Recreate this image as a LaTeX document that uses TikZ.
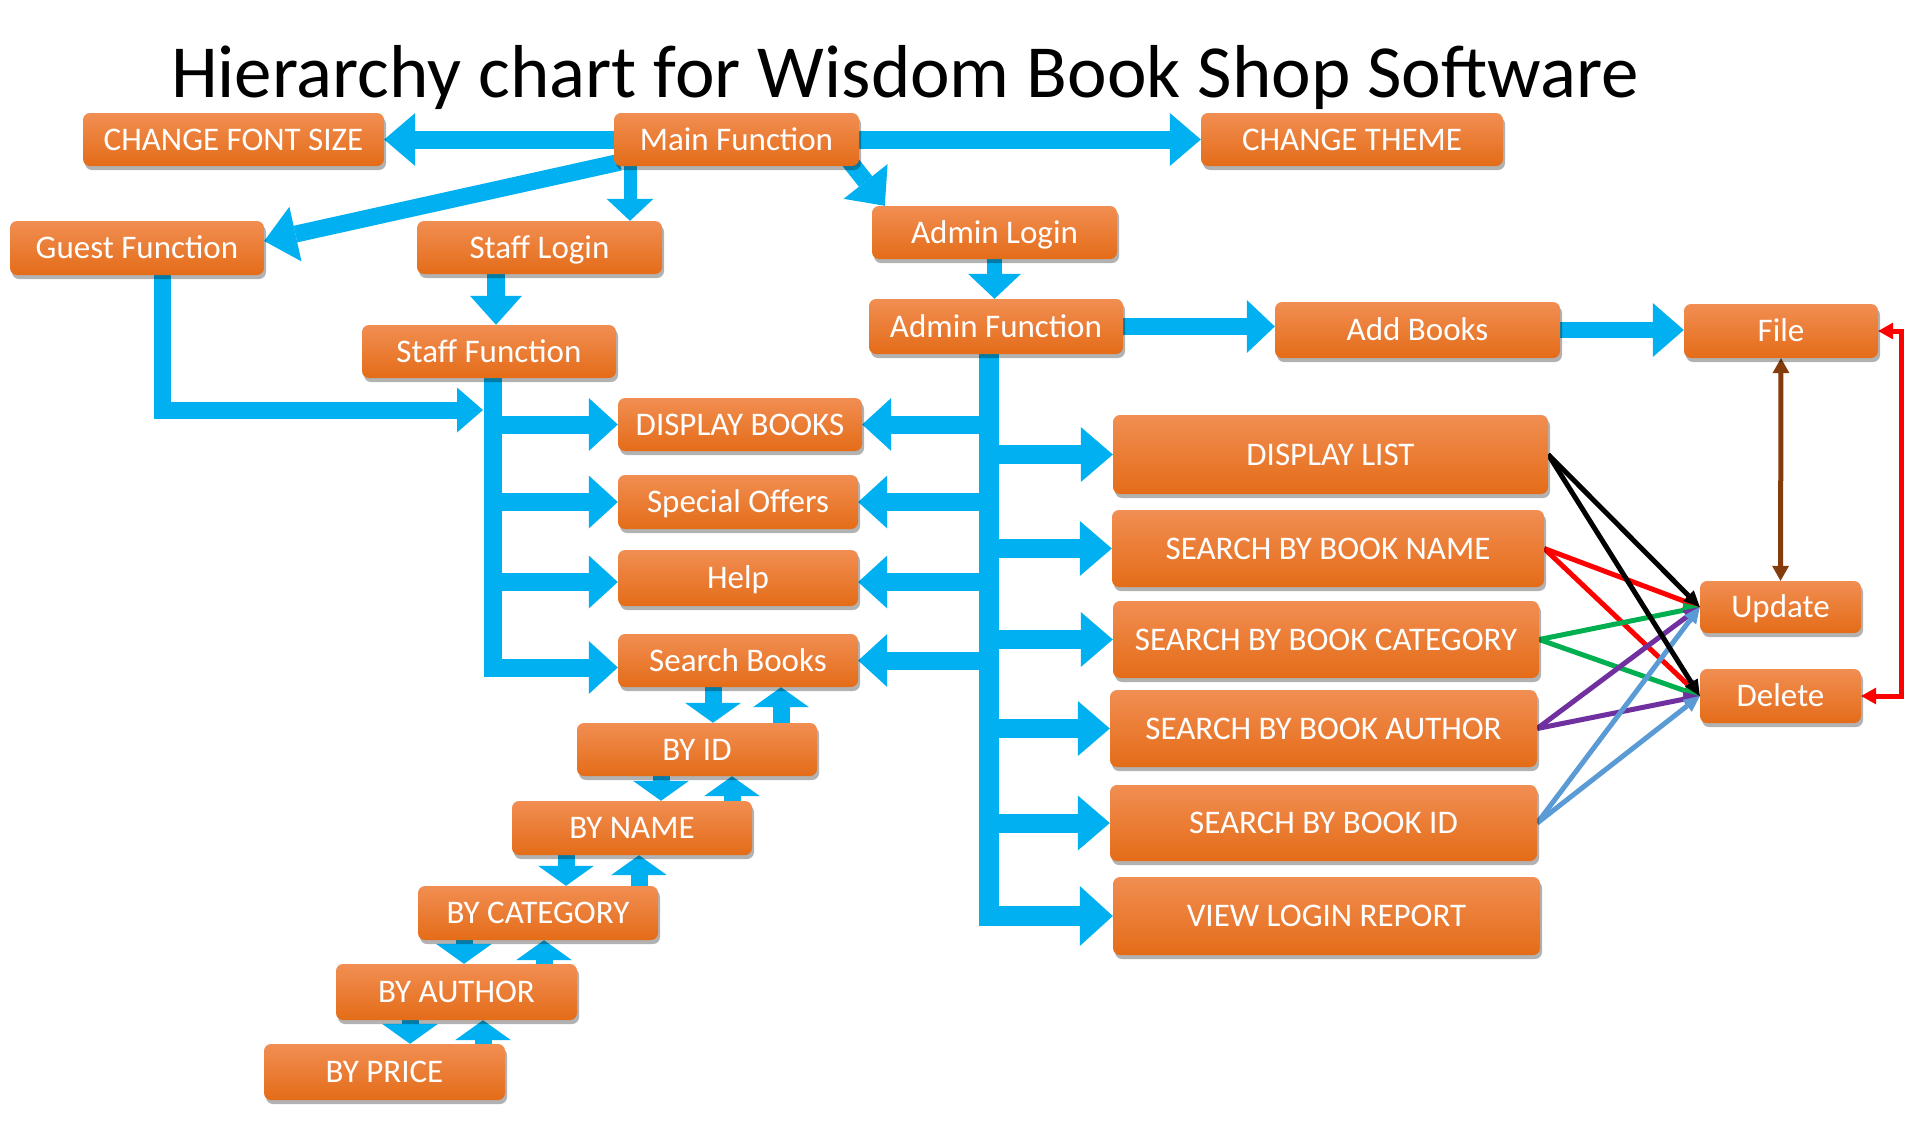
\documentclass[tikz,border=0pt]{standalone}
\usepackage{fontspec}
\setmainfont{Carlito}
\usetikzlibrary{arrows.meta,shadows,backgrounds,calc}
\definecolor{skyb}{RGB}{0,176,240}
\definecolor{orT}{RGB}{241,142,82}
\definecolor{orB}{RGB}{228,108,24}
\definecolor{grn}{RGB}{0,176,80}
\definecolor{prp}{RGB}{112,48,160}
\definecolor{lblu}{RGB}{91,155,213}
\definecolor{brn}{RGB}{132,60,12}
\definecolor{rd}{RGB}{255,0,0}
\tikzset{
  box/.style={rounded corners=7pt, top color=orT, bottom color=orB, draw=none,
    text=white, font=\fontsize{33}{36}\selectfont, inner sep=0pt,
    text height=21pt, text depth=0pt,
    drop shadow={shadow xshift=2pt, shadow yshift=-4pt, opacity=0.3, fill=black}},
  ba/.style n args={3}{draw=skyb, line width=#1, line join=miter,
    -{Triangle[length=#2,width=#3,line width=0pt]}},
  big/.style={ba={18pt}{31pt}{53pt}},
  brn18/.style={ba={18pt}{29pt}{53pt}},
  sd/.style={ba={17pt}{20pt}{56pt}},
  carr/.style={line width=5pt, -{Triangle[length=16pt,width=15pt,line width=0pt]}},
  dtip/.style={line width=5pt, {Triangle[length=15pt,width=17pt,line width=0pt]}-{Triangle[length=15pt,width=17pt,line width=0pt]}},
}
\begin{document}
\begin{tikzpicture}[x=1pt,y=-1pt]
\useasboundingbox (0,0) rectangle (1905,1125);

\node[font=\fontsize{75}{80}\selectfont, anchor=base, inner sep=0pt] (title) at (905,97) {Hierarchy chart for Wisdom Book Shop Software};

% boxes
\node[box, minimum width=301pt, minimum height=53pt] (cfs) at (233.5,139.5) {CHANGE FONT SIZE};
\node[box, minimum width=245pt, minimum height=53pt] (main) at (736.5,139.5) {Main Function};
\node[box, minimum width=302pt, minimum height=53pt] (theme) at (1352,139.5) {CHANGE THEME};
\node[box, minimum width=254pt, minimum height=54pt] (guest) at (137,248) {Guest Function};
\node[box, minimum width=245pt, minimum height=53pt] (slogin) at (539.5,247.5) {Staff Login};
\node[box, minimum width=245pt, minimum height=53pt] (alogin) at (994.5,232.5) {Admin Login};
\node[box, minimum width=254pt, minimum height=53pt] (sfunc) at (489,351.5) {Staff Function};
\node[box, minimum width=254pt, minimum height=55pt] (afunc) at (996,326.5) {Admin Function};
\node[box, minimum width=285pt, minimum height=56pt] (addb) at (1417.5,330) {Add Books};
\node[box, minimum width=194pt, minimum height=54pt] (file) at (1781,331) {File};
\node[box, minimum width=244pt, minimum height=53pt] (dbooks) at (740,424.5) {DISPLAY BOOKS};
\node[box, minimum width=240pt, minimum height=54pt] (offers) at (738,502) {Special Offers};
\node[box, minimum width=240pt, minimum height=56pt] (help) at (738,578) {Help};
\node[box, minimum width=240pt, minimum height=53pt] (sbooks) at (738,660.5) {Search Books};
\node[box, minimum width=240pt, minimum height=53pt] (byid) at (697,749.5) {BY ID};
\node[box, minimum width=240pt, minimum height=54pt] (byname) at (632,828) {BY NAME};
\node[box, minimum width=240pt, minimum height=54pt] (bycat) at (538,913) {BY CATEGORY};
\node[box, minimum width=241pt, minimum height=56pt] (byauth) at (456.5,992) {BY AUTHOR};
\node[box, minimum width=241pt, minimum height=56pt] (byprice) at (384.5,1072) {BY PRICE};
\node[box, minimum width=435pt, minimum height=79pt] (dlist) at (1330.5,454.5) {DISPLAY LIST};
\node[box, minimum width=432pt, minimum height=77pt] (sname) at (1328,548.5) {SEARCH BY BOOK NAME};
\node[box, minimum width=426pt, minimum height=77pt] (scat) at (1326,639.5) {SEARCH BY BOOK CATEGORY};
\node[box, minimum width=427pt, minimum height=77pt] (sauth) at (1323.5,728.5) {SEARCH BY BOOK AUTHOR};
\node[box, minimum width=427pt, minimum height=76pt] (sid) at (1323.5,823) {SEARCH BY BOOK ID};
\node[box, minimum width=427pt, minimum height=78pt] (vlog) at (1326.5,916) {VIEW LOGIN REPORT};
\node[box, minimum width=161pt, minimum height=52pt] (update) at (1780.5,607) {Update};
\node[box, minimum width=161pt, minimum height=54pt] (delete) at (1780.5,696) {Delete};

% helper coordinates
\coordinate (x630) at (630,0);
\coordinate (x496) at (496,0);
\coordinate (gj) at (483,410);
\coordinate (st) at (493,0);
\coordinate (at) at (989,0);
\coordinate (s1) at (713,0);
\coordinate (s2) at (781,0);
\coordinate (s3) at (661,0);
\coordinate (s4) at (732,0);
\coordinate (s5) at (566,0);
\coordinate (s6) at (639,0);
\coordinate (s7) at (464,0);
\coordinate (s8) at (544,0);
\coordinate (s9) at (410,0);
\coordinate (s10) at (483,0);
\coordinate (rc) at (1901,0);

\begin{pgfonlayer}{background}
\fill[white] (0,0) rectangle (1905,1125);
% main function
\draw[big] (main.west) -- (cfs.east);
\draw[big] (main.east) -- (theme.west);
\draw[ba={17pt}{32pt}{56pt}] ($(main.south west)+(6,-4)$) -- ($(guest.east)+(0,-7)$);
\draw[ba={13pt}{22pt}{47pt}] (main.south -| x630) -- (slogin.north -| x630);
\draw[ba={17pt}{31pt}{56pt}] ($(main.south east)+(-12,-8)$) -- ($(alogin.north west)+(13,0)$);
\draw[ba={18pt}{29pt}{52pt}] (slogin.south -| x496) -- (sfunc.north -| x496);
\draw[ba={15pt}{25pt}{53pt}] (alogin.south) -- (alogin.south |- afunc.north);
\draw[ba={17pt}{28pt}{53pt}] (afunc.east) -- (afunc.east -| addb.west);
\draw[ba={16pt}{31pt}{54pt}] (addb.east) -- (addb.east -| file.west);
% guest
\draw[ba={17pt}{26pt}{45pt}] ($(guest.south west)+(153,0)$) |- (gj);
% staff trunk
\draw[brn18] (sfunc.south -| st) |- ($(sbooks.west)+(0,7)$);
\draw[brn18] (st |- dbooks.west) -- (dbooks.west);
\draw[brn18] (st |- offers.west) -- (offers.west);
\draw[brn18] ($(st |- help.west)+(0,4)$) -- ($(help.west)+(0,4)$);
% admin trunk
\draw[ba={20pt}{33pt}{60pt}] (afunc.south -| at) |- (vlog.west);
\draw[ba={19pt}{32pt}{55pt}] (at |- dlist.west) -- (dlist.west);
\draw[ba={19pt}{32pt}{55pt}] (at |- sname.west) -- (sname.west);
\draw[ba={19pt}{32pt}{55pt}] (at |- scat.west) -- (scat.west);
\draw[ba={19pt}{32pt}{55pt}] (at |- sauth.west) -- (sauth.west);
\draw[ba={19pt}{32pt}{55pt}] (at |- sid.west) -- (sid.west);
\draw[brn18] (at |- dbooks.east) -- (dbooks.east);
\draw[brn18] (at |- offers.east) -- (offers.east);
\draw[brn18] ($(at |- help.east)+(0,4)$) -- ($(help.east)+(0,4)$);
\draw[brn18] (at |- sbooks.east) -- (sbooks.east);
% staircase
\draw[sd] (sbooks.south -| s1) -- (byid.north -| s1);
\draw[sd] (byid.north -| s2) -- (sbooks.south -| s2);
\draw[sd] (byid.south -| s3) -- (byname.north -| s3);
\draw[sd] (byname.north -| s4) -- (byid.south -| s4);
\draw[sd] (byname.south -| s5) -- (bycat.north -| s5);
\draw[sd] (bycat.north -| s6) -- (byname.south -| s6);
\draw[sd] (bycat.south -| s7) -- (byauth.north -| s7);
\draw[sd] (byauth.north -| s8) -- (bycat.south -| s8);
\draw[sd] (byauth.south -| s9) -- (byprice.north -| s9);
\draw[sd] (byprice.north -| s10) -- (byauth.south -| s10);
% coloured connectors
\draw[carr, rd] (sname.east) -- (update.west);
\draw[carr, rd] (sname.east) -- (delete.west);
\draw[carr, grn] (scat.east) -- (update.west);
\draw[carr, grn] (scat.east) -- (delete.west);
\draw[carr, prp] (sauth.east) -- (update.west);
\draw[carr, prp] (sauth.east) -- (delete.west);
\draw[carr, lblu] (sid.east) -- (update.west);
\draw[carr, lblu] (sid.east) -- (delete.west);
\draw[carr, black] (dlist.east) -- (update.west);
\draw[carr, black] (dlist.east) -- (delete.west);
\draw[dtip, brn] (file.south) -- (update.north);
\draw[dtip, rd] (file.east) -- (file.east -| rc) -- (delete.east -| rc) -- (delete.east);
\end{pgfonlayer}
\end{tikzpicture}
\end{document}
